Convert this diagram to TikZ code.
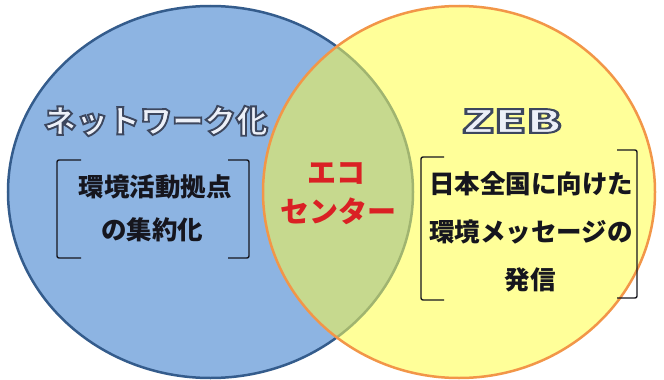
\documentclass[tikz,border=0pt]{standalone}
\usepackage{fontspec}
\usepackage{graphicx}
\newfontfamily\jp{Noto Sans CJK JP}
\definecolor{bluefill}{RGB}{141,180,226}
\definecolor{blueline}{RGB}{52,92,140}
\definecolor{yellowfill}{RGB}{255,255,153}
\definecolor{orangeline}{RGB}{242,150,72}
\definecolor{greenfill}{RGB}{198,217,142}
\definecolor{greenline}{RGB}{160,180,112}
\definecolor{ecored}{RGB}{218,32,36}
\definecolor{bodytext}{RGB}{22,22,30}
\definecolor{olfill}{RGB}{236,240,248}
% outlined text: fill light, stroke dark (PDF text render mode 2)
\newcommand\oltext[1]{\textcolor{olfill}{\special{pdf:literal direct 0.24 0.28 0.37 RG 1.9 w 2 Tr}#1\special{pdf:literal direct 0 Tr}}}
\tikzset{
  titletext/.style={inner sep=0pt, font=\jp\bfseries\fontsize{32}{36}\selectfont},
  bodytxt/.style={inner sep=0pt, text=bodytext, font=\jp\bfseries\fontsize{25.5}{30}\selectfont},
  ecotxt/.style={inner sep=0pt, text=ecored, font=\jp\bfseries\fontsize{29}{34}\selectfont},
  brk/.style={draw=bodytext, line width=1.4pt, rounded corners=2pt}
}
\begin{document}
\begin{tikzpicture}[x=1pt,y=-1pt]
\useasboundingbox (0,0) rectangle (664,380);
\fill[white] (0,0) rectangle (664,380);
% left circle
\fill[bluefill] (210.5,192) ellipse [x radius=202.5, y radius=186];
\draw[blueline, line width=2.5pt] (210.5,192) ellipse [x radius=202.5, y radius=186];
% right circle
\fill[yellowfill] (459,192) ellipse [x radius=196, y radius=186];
\begin{scope}
  \clip (459,192) ellipse [x radius=196, y radius=186];
  \fill[greenfill] (210.5,192) ellipse [x radius=202.5, y radius=186];
  \draw[greenline, line width=2.5pt] (210.5,192) ellipse [x radius=202.5, y radius=186];
\end{scope}
\draw[orangeline, line width=2.5pt] (459,192) ellipse [x radius=196, y radius=186];
% titles
\node[titletext] (net) at (156,121) {\oltext{ネットワーク化}};
\node[titletext] (zeb) at (512,121) {\oltext{\scalebox{1.6}[1]{ZEB}}};
% left bracket
\draw[brk] (81,160) -- (57,160) -- (57,258) -- (81,258);
\draw[brk] (228,160) -- (249,160) -- (249,258) -- (228,258);
\node[bodytxt] (l1) at (155,187) {環境活動拠点};
\node[bodytxt] (l2) at (152,230) {の集約化};
% eco center
\node[ecotxt] (e1) at (336,173) {エコ};
\node[ecotxt] (e2) at (338,211) {センター};
% right bracket
\draw[brk] (444,157) -- (421,157) -- (421,300) -- (444,300);
\draw[brk] (617,150) -- (637,150) -- (637,298) -- (617,298);
\node[bodytxt] (r1) at (531,184) {日本全国に向けた};
\node[bodytxt] (r2) at (531,232) {環境メッセージの};
\node[bodytxt] (r3) at (530,280) {発信};
\end{tikzpicture}
\end{document}
